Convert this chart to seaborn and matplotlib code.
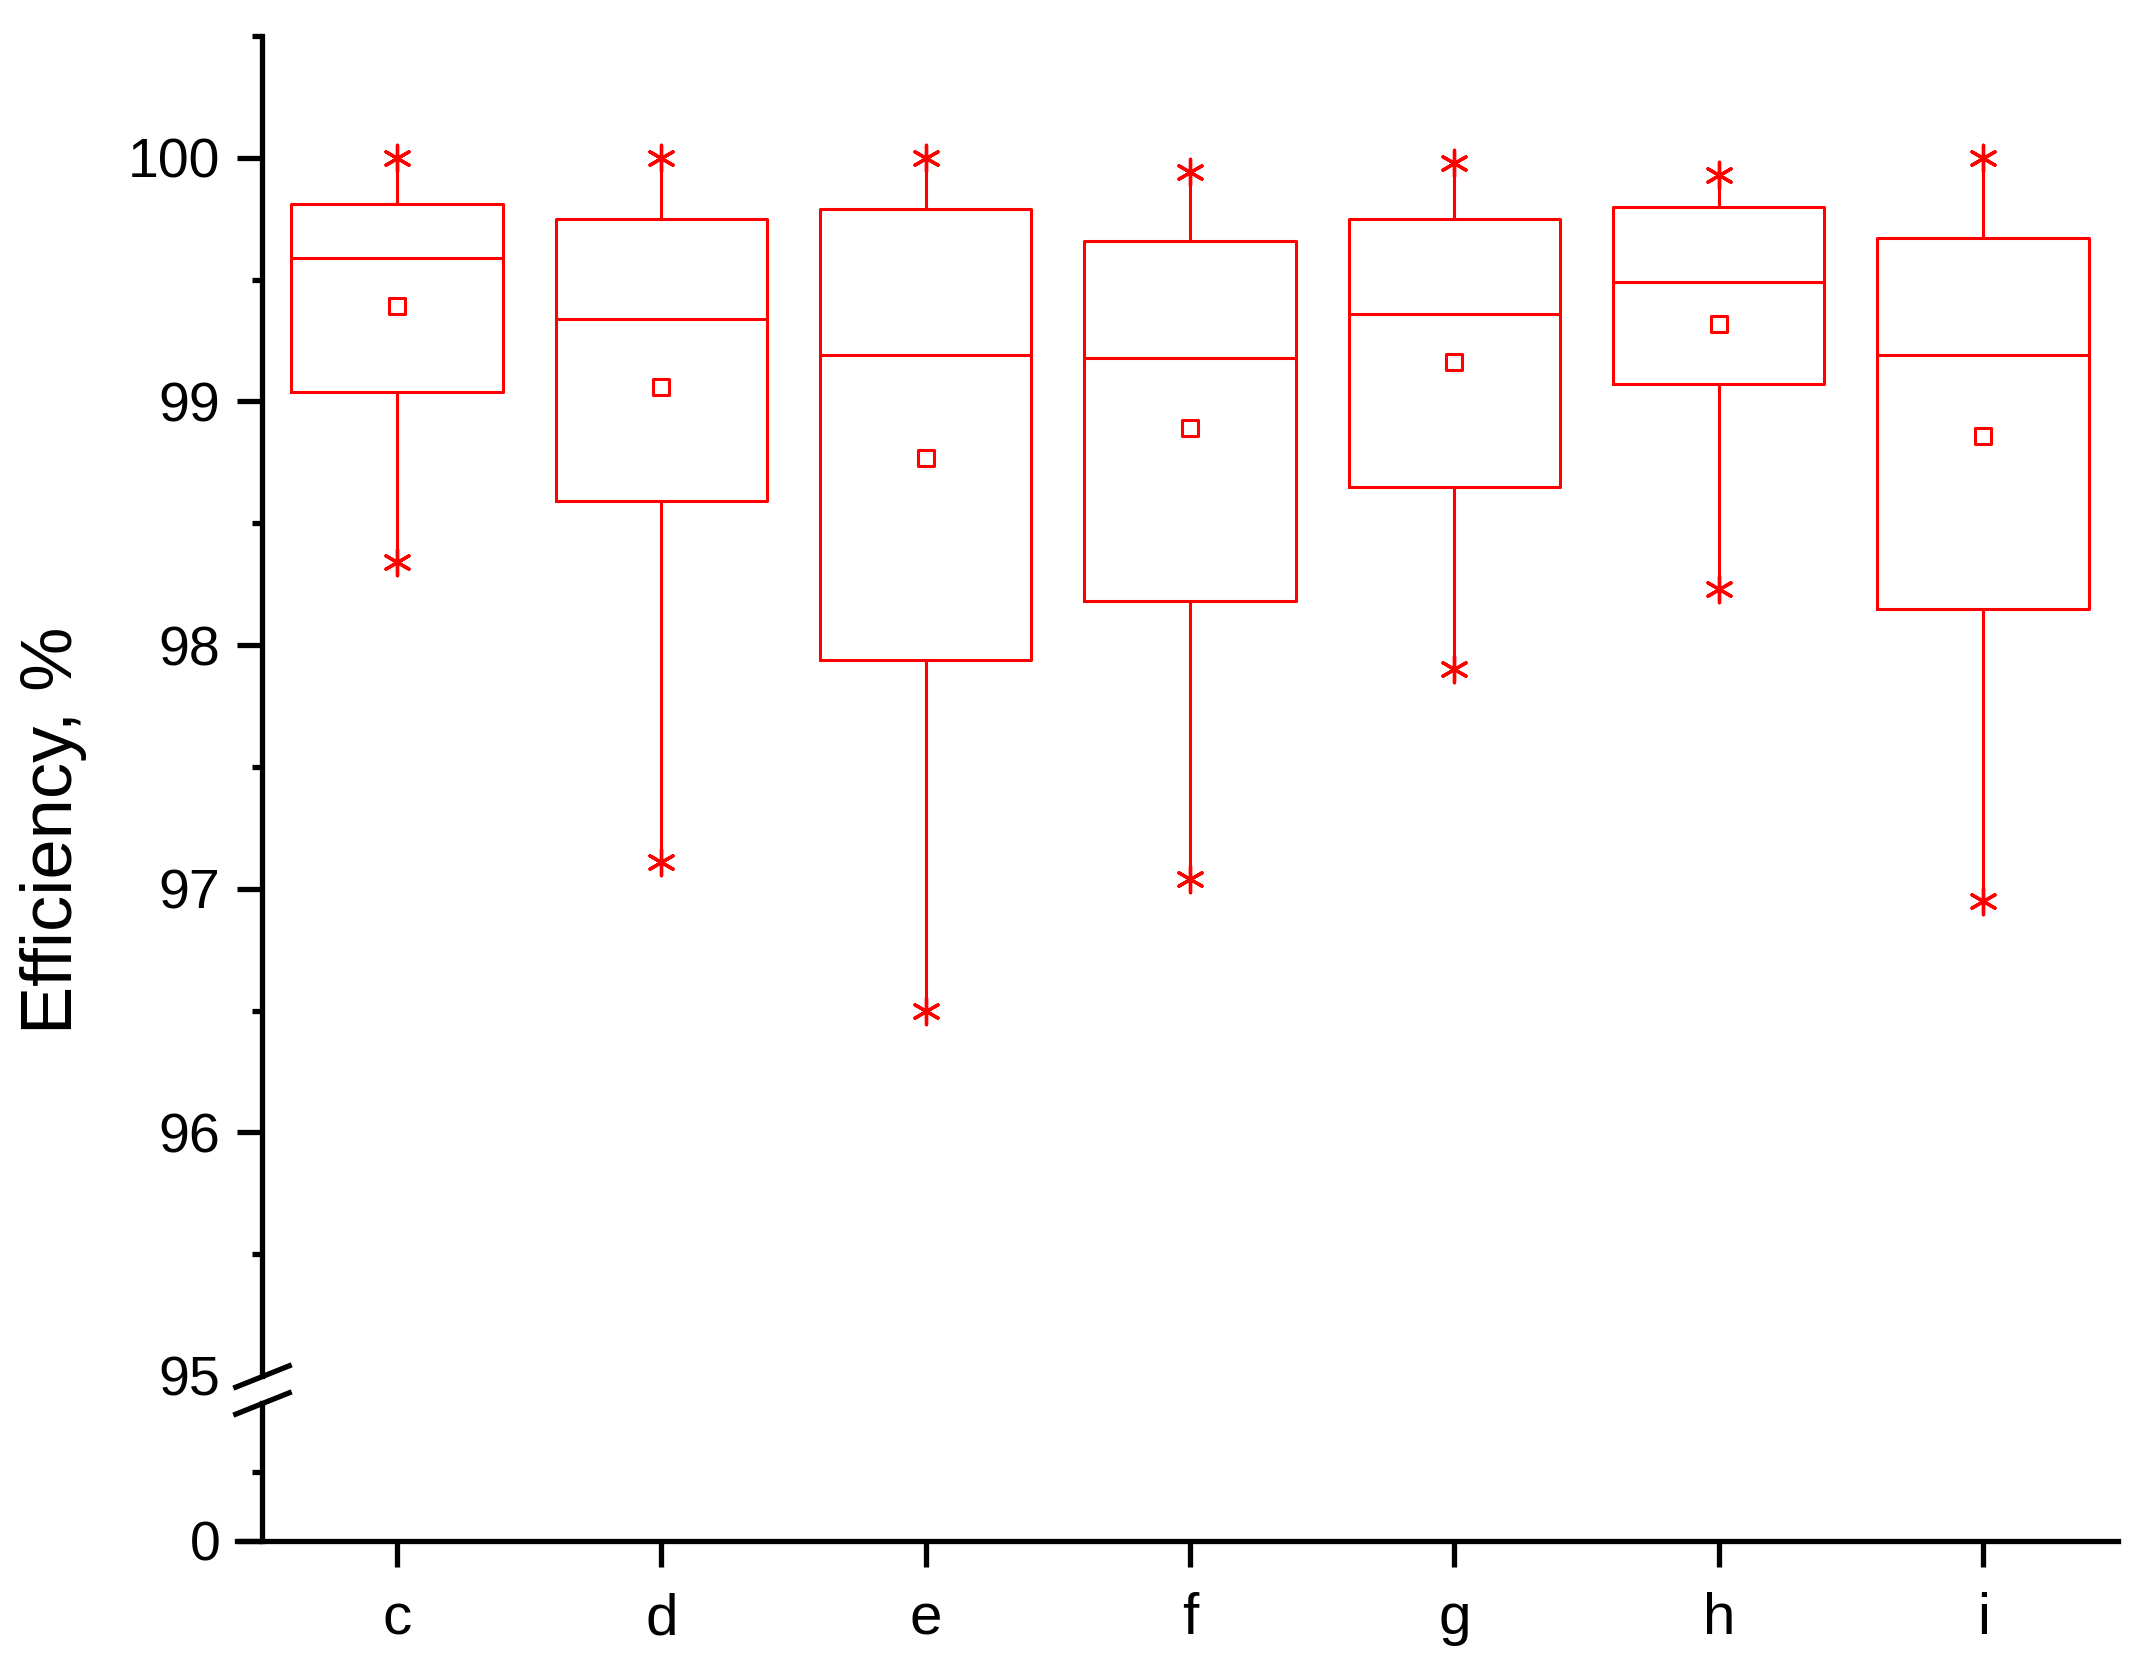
import numpy as np
import pandas as pd
import matplotlib
matplotlib.use("Agg")
import matplotlib.pyplot as plt
import seaborn as sns
from matplotlib.ticker import MultipleLocator, FixedLocator

# values (efficiency, %)
categories = ["c", "d", "e", "f", "g", "h", "i"]
mins    = [98.34, 97.11, 96.50, 97.04, 97.90, 98.23, 96.95]
q1s     = [99.04, 98.59, 97.94, 98.18, 98.65, 99.07, 98.15]
medians = [99.59, 99.34, 99.19, 99.18, 99.36, 99.49, 99.19]
q3s     = [99.81, 99.75, 99.79, 99.66, 99.75, 99.80, 99.67]
maxs    = [100.0, 100.0, 100.0, 99.94, 99.98, 99.93, 100.0]
means   = [99.39, 99.06, 98.77, 98.89, 99.16, 99.32, 98.86]

RED = "#ff0000"

# five-number summary per group -> boxplot with whiskers at min/max
rows = []
for cat, a, b, m, d, e in zip(categories, mins, q1s, medians, q3s, maxs):
    for v in (a, b, m, d, e):
        rows.append({"group": cat, "eff": v})
box_df = pd.DataFrame(rows)

ext_df = pd.DataFrame({"group": categories * 2, "eff": mins + maxs})
mean_df = pd.DataFrame({"group": categories, "eff": means})

sns.set_style("ticks")
plt.rcParams["font.family"] = ["Liberation Sans", "DejaVu Sans"]
plt.rcParams.update({"text.color": "black", "axes.edgecolor": "black",
                     "xtick.color": "black", "ytick.color": "black",
                     "axes.labelcolor": "black"})

fig = plt.figure(figsize=(21.48, 16.61), dpi=100)
ax_top = fig.add_axes([0.122, 0.1716, 0.864, 0.8067])
ax_bot = fig.add_axes([0.122, 0.07225, 0.864, 0.0831], sharex=ax_top)

sns.boxplot(data=box_df, x="group", y="eff", ax=ax_top, whis=(0, 100),
            width=0.8, fill=False, color=RED, linewidth=2.2, showfliers=False,
            capprops={"visible": False})
sns.stripplot(data=ext_df, x="group", y="eff", ax=ax_top, jitter=False,
              marker=(6, 2, 0), color=RED, size=19, linewidth=2.4, zorder=4)
sns.stripplot(data=mean_df, x="group", y="eff", ax=ax_top, jitter=False,
              marker="s", color="white", edgecolor=RED, size=12, linewidth=2.2,
              zorder=5)

lw = 3.8
# upper part of the broken axis
ax_top.set_xlim(-0.51, 6.51)
ax_top.set_ylim(95, 100.5)
ax_top.yaxis.set_major_locator(FixedLocator([95, 96, 97, 98, 99, 100]))
ax_top.yaxis.set_minor_locator(MultipleLocator(0.5))
ax_top.set_xlabel("")
ax_top.set_ylabel("")
for s in ["top", "right", "bottom"]:
    ax_top.spines[s].set_visible(False)
ax_top.spines["left"].set_linewidth(lw)
ax_top.tick_params(axis="x", bottom=False, labelbottom=False)
ax_top.tick_params(axis="y", which="major", length=18, width=lw,
                   labelsize=40, pad=12)
ax_top.tick_params(axis="y", which="minor", length=7.5, width=lw)
ax_top.yaxis.get_major_ticks()[0].tick1line.set_visible(False)

# lower part
ax_bot.set_ylim(0, 10)
ax_bot.yaxis.set_major_locator(FixedLocator([0]))
ax_bot.yaxis.set_minor_locator(FixedLocator([5]))
for s in ["top", "right"]:
    ax_bot.spines[s].set_visible(False)
ax_bot.spines["left"].set_linewidth(lw)
ax_bot.spines["bottom"].set_linewidth(lw)
ax_bot.spines["bottom"].set_bounds(-0.605, 6.51)
ax_bot.tick_params(axis="y", which="major", length=18, width=lw,
                   labelsize=40, pad=12)
ax_bot.tick_params(axis="y", which="minor", length=7.5, width=lw)
ax_bot.tick_params(axis="x", length=19, width=lw, labelsize=42, pad=18)
ax_bot.set_xlabel("")
ax_bot.set_ylabel("")
ax_bot.patch.set_alpha(0)

# break marks
brk = dict(marker=[(-1, -0.4), (1, 0.4)], markersize=42, linestyle="none",
           color="k", mec="k", mew=lw, clip_on=False)
ax_top.plot([0], [0], transform=ax_top.transAxes, **brk)
ax_bot.plot([0], [1], transform=ax_bot.transAxes, **brk)

fig.text(0.025, 0.5, "Efficiency, %", rotation=90, va="center", ha="center",
         fontsize=52)

fig.savefig("out.png", dpi=100)
